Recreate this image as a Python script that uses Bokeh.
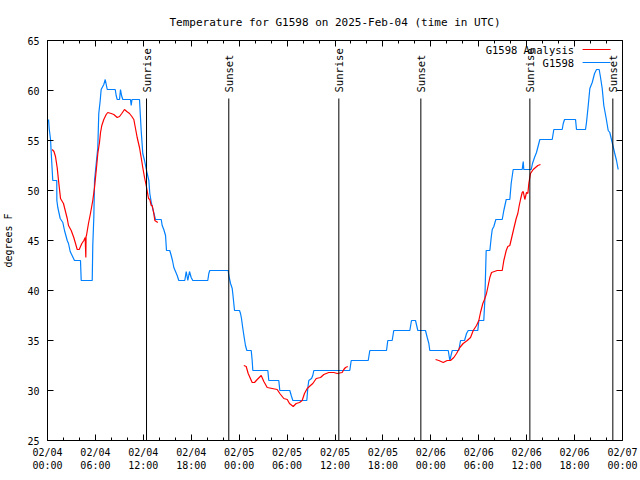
import numpy as np
from bokeh.plotting import figure
from bokeh.models import FixedTicker, LinearAxis
from bokeh.core.properties import value
from bokeh.embed import file_html
from bokeh.resources import INLINE

chart_title = "Temperature for G1598 on 2025-Feb-04 (time in UTC)"
y_label = "degrees F"

# hours since 2025-02-04 00:00 UTC
tick_hours = [0, 6, 12, 18, 24, 30, 36, 42, 48, 54, 60, 66, 72]
tick_labels = ["02/04\n00:00", "02/04\n06:00", "02/04\n12:00", "02/04\n18:00",
               "02/05\n00:00", "02/05\n06:00", "02/05\n12:00", "02/05\n18:00",
               "02/06\n00:00", "02/06\n06:00", "02/06\n12:00", "02/06\n18:00",
               "02/07\n00:00"]
minor_hours = list(range(0, 73, 2))
y_ticks = [25, 30, 35, 40, 45, 50, 55, 60, 65]

# G1598 observations
obs_hours = [0.13, 0.21, 0.38, 0.50, 0.66, 1.16, 1.17, 1.29, 1.59, 1.92, 2.13, 2.47, 2.63, 2.84,
             3.38, 4.13, 4.22, 5.60, 5.67, 5.80, 5.89, 6.10, 6.30, 6.42, 6.60, 6.72, 7.05, 7.23,
             7.48, 8.48, 8.60, 8.73, 9.02, 9.14, 9.27, 9.43, 10.39, 10.48, 10.58, 11.52, 11.73,
             11.93, 12.15, 12.48, 12.69, 12.81, 13.02, 13.24, 13.52, 14.24, 14.36, 14.56, 14.78,
             14.90, 15.31, 15.49, 15.65, 15.82, 16.03, 16.24, 16.44, 17.19, 17.37, 17.57, 17.78,
             17.99, 18.19, 20.07, 20.20, 20.32, 22.63, 22.70, 22.92, 23.13, 23.20, 23.42, 24.04,
             24.17, 24.29, 24.46, 24.63, 24.79, 24.96, 25.51, 25.63, 25.71, 27.59, 27.71, 28.96,
             29.09, 30.34, 30.52, 30.72, 32.47, 32.60, 32.72, 33.06, 33.22, 33.35, 37.85, 38.03,
             40.16, 40.36, 42.45, 42.61, 43.16, 43.36, 45.37, 45.58, 46.08, 46.37, 47.33, 47.55,
             47.75, 47.87, 50.18, 50.38, 50.68, 51.50, 51.72, 52.22, 52.47, 52.68, 53.88, 54.01,
             54.63, 54.76, 54.93, 55.39, 55.56, 55.69, 55.89, 56.14, 56.94, 57.14, 57.44, 57.89,
             58.06, 58.31, 59.44, 59.57, 59.64, 60.57, 60.73, 60.98, 61.23, 61.65, 63.20, 63.40,
             64.45, 64.58, 64.74, 66.12, 66.24, 67.37, 67.49, 67.71, 67.91, 68.21, 68.50, 68.75,
             69.08, 69.25, 69.46, 69.66, 69.96, 70.21, 70.41, 70.71, 71.00, 71.25, 71.46]
obs_temps = [57.1, 56.2, 55.1, 53.3, 51.0, 51.0, 49.0, 48.3, 47.2, 46.8, 46.0, 45.0, 44.7, 43.9,
             43.0, 43.0, 41.0, 41.0, 44.5, 47.3, 51.0, 52.7, 54.3, 57.7, 59.0, 60.1, 60.6, 61.1,
             60.1, 60.1, 59.5, 59.1, 59.1, 60.1, 59.5, 59.1, 59.1, 58.5, 59.1, 59.1, 56.0,
             53.7, 53.0, 51.7, 51.0, 49.7, 48.7, 48.0, 47.1, 47.1, 46.5, 46.1, 45.5,
             44.0, 44.0, 43.5, 43.0, 42.3, 41.9, 41.5, 41.0, 41.0, 41.9, 41.0, 41.9,
             41.3, 41.0, 41.0, 41.7, 42.0, 42.0, 41.5, 40.7, 40.2, 39.7, 38.0, 38.0,
             37.7, 37.2, 36.2, 35.3, 34.5, 34.0, 34.0, 33.0, 32.0, 32.0, 31.0, 31.0,
             30.0, 30.0, 29.5, 29.0, 29.0, 30.3, 31.0, 31.2, 31.5, 32.0, 32.0, 33.0,
             33.0, 34.0, 34.0, 35.0, 35.0, 36.0, 36.0, 37.0, 37.0, 36.0, 36.0, 35.3,
             34.7, 34.0, 34.0, 33.0, 34.0, 34.0, 35.0, 35.0, 35.7, 36.0, 36.0, 37.0,
             37.0, 39.0, 44.0, 44.0, 45.3, 46.1, 46.4, 47.1, 47.1, 48.0, 49.1, 49.1,
             50.7, 52.1, 52.1, 52.9, 52.1, 52.1, 52.7, 53.3, 53.8, 55.1, 55.1, 56.1,
             56.1, 56.7, 57.1, 57.1, 56.1, 56.1, 56.8, 58.5, 60.2, 60.8, 61.7, 62.1,
             62.1, 61.3, 60.2, 58.5, 57.2, 56.0, 55.8, 54.8, 53.8, 53.0, 52.1]

# G1598 Analysis (three separate runs)
ana1_hours = [0.59, 0.81, 1.00, 1.21, 1.38, 1.63, 2.00, 2.22, 2.47, 2.63, 2.97, 3.29, 3.51, 3.72,
              3.97, 4.30, 4.55, 4.72, 4.80, 4.83, 4.88, 5.13, 5.38, 5.67, 5.89, 6.10, 6.30, 6.51,
              6.64, 6.80, 7.05, 7.35, 7.55, 7.98, 8.30, 8.73, 9.02, 9.30, 9.64, 9.93, 10.27,
              10.56, 10.81, 11.02, 11.23, 11.52, 11.73, 11.93, 12.15, 12.36, 12.65, 12.81, 12.99,
              13.11, 13.31, 13.44, 13.81]
ana1_temps = [54.1, 53.9, 53.4, 52.3, 51.0, 49.2, 48.7, 48.0, 47.2, 46.5, 46.0, 45.3, 44.7, 44.1,
              44.1, 44.7, 45.0, 45.3, 43.3, 45.4, 45.5, 46.7, 47.7, 49.0, 50.3, 52.0, 53.7, 54.8,
              55.8, 56.5, 57.1, 57.6, 57.8, 57.7, 57.6, 57.3, 57.4, 57.7, 58.1, 57.9, 57.7,
              57.4, 57.1, 56.2, 55.3, 54.3, 53.3, 52.3, 51.3, 50.5, 49.2, 49.1, 48.5,
              48.5, 47.7, 47.0, 46.8]
ana2_hours = [24.58, 24.88, 25.13, 25.63, 25.92, 26.26, 26.76, 27.09, 27.51, 28.14, 28.76, 29.09,
              29.59, 30.02, 30.30, 30.77, 31.14, 31.56, 31.89, 32.18, 32.52, 32.93, 33.22, 33.65,
              34.19, 34.60, 35.22, 35.85, 36.28, 36.90, 37.10, 37.32, 37.60]
ana2_temps = [32.5, 32.4, 31.7, 30.8, 30.8, 31.1, 31.5, 30.9, 30.3, 30.2, 30.1, 29.7,
              29.2, 29.1, 28.7, 28.4, 28.7, 28.8, 29.0, 29.7, 30.2, 30.5, 30.7, 31.2,
              31.3, 31.6, 31.8, 31.8, 31.7, 31.8, 32.1, 32.3, 32.4]
ana3_hours = [48.59, 49.00, 49.55, 50.05, 50.46, 50.88, 51.22, 51.63, 52.05, 52.56, 52.97, 53.31,
              53.72, 54.01, 54.22, 54.51, 54.72, 54.97, 55.18, 55.39, 55.60, 56.31, 56.94, 57.14,
              57.44, 57.64, 57.89, 58.10, 58.39, 58.69, 58.89, 59.07, 59.23, 59.44, 59.57, 59.77,
              59.98, 60.15, 60.27, 60.48, 60.82, 61.11, 61.40, 61.73]
ana3_temps = [33.1, 33.0, 32.8, 33.0, 33.0, 33.3, 33.7, 34.3, 34.7, 35.0, 35.3, 36.0,
              36.5, 37.0, 37.8, 38.7, 39.1, 39.7, 40.5, 41.3, 41.8, 42.0, 42.0, 43.0,
              44.0, 44.4, 44.5, 45.2, 46.2, 47.2, 47.7, 48.5, 49.1, 49.8, 49.9, 49.1,
              49.8, 49.7, 50.7, 51.7, 52.1, 52.3, 52.5, 52.6]

sunrise_hours = [12.40, 36.48, 60.40]
sunset_hours = [22.70, 46.75, 70.79]

FONT = "DejaVu Sans Mono"
FS = "10px"
RED = "#ff0000"
BLUE = "#0080ff"

p = figure(width=640, height=480, x_range=(0, 72), y_range=(25, 65),
           output_backend="svg", toolbar_location=None,
           min_border_left=47, min_border_right=18, min_border_top=40, min_border_bottom=40,
           title=chart_title)
p.title.align = "center"
p.title.text_font = FONT
p.title.text_font_size = "11px"
p.title.text_font_style = "normal"
p.title.text_color = "black"
p.title.standoff = 23
p.grid.visible = False
p.outline_line_color = "black"
p.outline_line_width = 1
p.background_fill_color = "white"
p.border_fill_color = "white"

xt = FixedTicker(ticks=tick_hours, minor_ticks=minor_hours)
yt = FixedTicker(ticks=y_ticks, minor_ticks=[])


def style(ax, labels=True):
    ax.axis_line_color = None
    ax.major_tick_in = 6
    ax.major_tick_out = 0
    ax.minor_tick_in = 3
    ax.minor_tick_out = 0
    ax.major_tick_line_color = "black"
    ax.minor_tick_line_color = "black"
    ax.major_label_text_font = FONT
    ax.major_label_text_font_size = FS if labels else "0px"
    ax.major_label_text_color = "black"
    if not labels:
        ax.major_label_standoff = 0


xa = p.xaxis[0]
xa.ticker = xt
xa.major_label_overrides = {h: lab for h, lab in zip(tick_hours, tick_labels)}
style(xa)
xa.major_label_standoff = 6

ya = p.yaxis[0]
ya.ticker = yt
style(ya)
ya.major_label_standoff = 8
ya.axis_label = y_label
ya.axis_label_text_font = FONT
ya.axis_label_text_font_size = FS
ya.axis_label_text_font_style = "normal"
ya.axis_label_text_color = "black"
ya.axis_label_standoff = 10

top = LinearAxis(ticker=xt, major_label_overrides={h: "" for h in tick_hours})
style(top, labels=False)
p.add_layout(top, "above")
right = LinearAxis(ticker=yt, major_label_overrides={v: "" for v in y_ticks})
style(right, labels=False)
p.add_layout(right, "right")

# data lines
p.line(obs_hours, obs_temps, color=BLUE, line_width=1.2)
ana_hours = ana1_hours + [np.nan] + ana2_hours + [np.nan] + ana3_hours
ana_temps = ana1_temps + [np.nan] + ana2_temps + [np.nan] + ana3_temps
p.line(ana_hours, ana_temps, color=RED, line_width=1.2)

# sunrise / sunset markers
sun_x = sunrise_hours + sunset_hours
sun_txt = ["Sunrise"] * len(sunrise_hours) + ["Sunset"] * len(sunset_hours)
p.segment(x0=sun_x, y0=[59.2] * len(sun_x), x1=sun_x, y1=[25] * len(sun_x),
          color="black", line_width=1)
p.text(x=sun_x, y=[59.8] * len(sun_x), text=sun_txt, angle=np.pi / 2,
       text_align="left", text_baseline="middle",
       text_font=value(FONT), text_font_size="10.5px", text_color="black")

# key (gnuplot style: label then sample)
key_names = ["G1598 Analysis", "G1598"]
key_colors = [RED, BLUE]
key_y = [64.1, 62.8]
p.text(x=[65.95] * 2, y=key_y, text=key_names, text_align="right", text_baseline="middle",
       text_font=value(FONT), text_font_size="10.5px", text_color="black")
p.segment(x0=[67.0] * 2, y0=key_y, x1=[70.5] * 2, y1=key_y, color=key_colors, line_width=1.2)

open("out.html", "w").write(file_html(p, INLINE))
